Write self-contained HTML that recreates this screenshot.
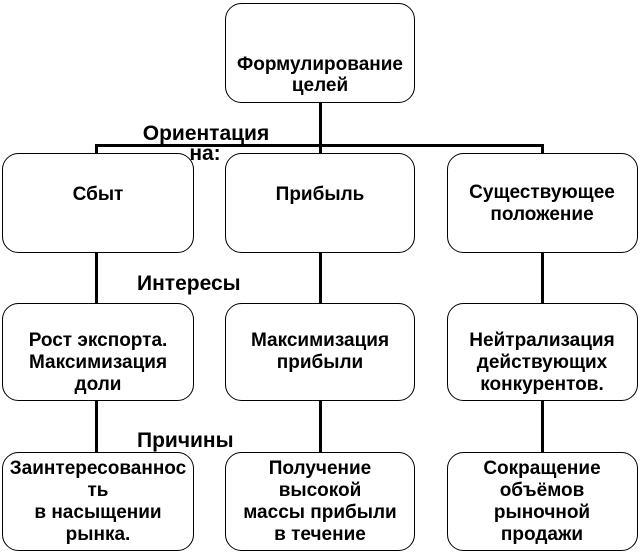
<!DOCTYPE html>
<html>
<head>
<meta charset="utf-8">
<style>
  html,body{margin:0;padding:0;background:#fff;}
  svg{display:block;}
  text{font-family:"Liberation Sans","DejaVu Sans",sans-serif;font-weight:bold;fill:#000;}
  .b{font-size:19px;}
  .l{font-size:21px;}
</style>
</head>
<body>
<svg width="641" height="554" viewBox="0 0 641 554" xmlns="http://www.w3.org/2000/svg">
  <rect width="641" height="554" fill="#fff"/>
  <!-- connectors -->
  <g stroke="#000" stroke-width="3" fill="none">
    <line x1="320.5" y1="102" x2="320.5" y2="146"/>
    <line x1="95" y1="145.5" x2="544" y2="145.5"/>
    <line x1="96.5" y1="144" x2="96.5" y2="153"/>
    <line x1="320.5" y1="144" x2="320.5" y2="153"/>
    <line x1="542.5" y1="144" x2="542.5" y2="153"/>
    <line x1="96.5" y1="252" x2="96.5" y2="303"/>
    <line x1="320.5" y1="252" x2="320.5" y2="303"/>
    <line x1="542.5" y1="252" x2="542.5" y2="303"/>
    <line x1="96.5" y1="400" x2="96.5" y2="452"/>
    <line x1="320.5" y1="400" x2="320.5" y2="452"/>
    <line x1="542.5" y1="400" x2="542.5" y2="452"/>
  </g>
  <!-- boxes -->
  <g stroke="#000" stroke-width="1" fill="#fff">
    <rect x="225.5" y="3.5" width="189" height="99" rx="16" ry="16"/>
    <rect x="2.5" y="153.5" width="191" height="99" rx="16" ry="16"/>
    <rect x="225.5" y="153.5" width="189" height="99" rx="16" ry="16"/>
    <rect x="447.5" y="153.5" width="190" height="99" rx="16" ry="16"/>
    <rect x="2.5" y="303.5" width="191" height="97" rx="16" ry="16"/>
    <rect x="225.5" y="303.5" width="189" height="97" rx="16" ry="16"/>
    <rect x="447.5" y="303.5" width="190" height="97" rx="16" ry="16"/>
    <rect x="2.5" y="452.5" width="191" height="98" rx="16" ry="16"/>
    <rect x="225.5" y="452.5" width="189" height="98" rx="16" ry="16"/>
    <rect x="447.5" y="452.5" width="190" height="98" rx="16" ry="16"/>
  </g>
  <!-- box text -->
  <g class="b" text-anchor="middle">
    <text x="320" y="70" class="b">Формулирование</text>
    <text x="320" y="91" class="b">целей</text>

    <text x="98" y="200" class="b">Сбыт</text>
    <text x="320" y="200" class="b">Прибыль</text>
    <text x="542" y="198" class="b">Существующее</text>
    <text x="542" y="220" class="b">положение</text>

    <text x="98" y="346" class="b">Рост экспорта.</text>
    <text x="98" y="368" class="b">Максимизация</text>
    <text x="98" y="390" class="b">доли</text>
    <text x="320" y="346" class="b">Максимизация</text>
    <text x="320" y="368" class="b">прибыли</text>
    <text x="542" y="346" class="b">Нейтрализация</text>
    <text x="542" y="368" class="b">действующих</text>
    <text x="542" y="390" class="b">конкурентов.</text>

    <text x="98" y="474" class="b">Заинтересованнос</text>
    <text x="98" y="496" class="b">ть</text>
    <text x="98" y="518" class="b">в насыщении</text>
    <text x="98" y="540" class="b">рынка.</text>
    <text x="320" y="474" class="b">Получение</text>
    <text x="320" y="496" class="b">высокой</text>
    <text x="320" y="518" class="b">массы прибыли</text>
    <text x="320" y="540" class="b">в течение</text>
    <text x="542" y="474" class="b">Сокращение</text>
    <text x="542" y="496" class="b">объёмов</text>
    <text x="542" y="518" class="b">рыночной</text>
    <text x="542" y="540" class="b">продажи</text>
  </g>
  <!-- labels -->
  <text x="206" y="140" class="l" text-anchor="middle">Ориентация</text>
  <text x="205" y="160" class="l" text-anchor="middle">на:</text>
  <text x="137" y="290" class="l">Интересы</text>
  <text x="137" y="447" class="l">Причины</text>
</svg>
</body>
</html>
